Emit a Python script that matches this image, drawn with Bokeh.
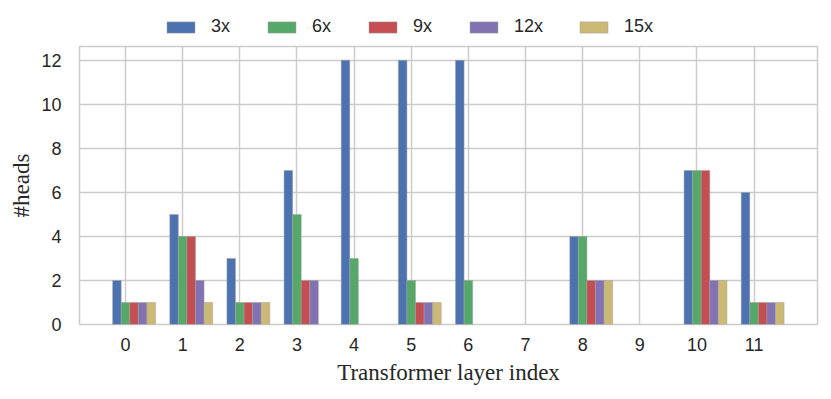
from bokeh.plotting import figure
from bokeh.layouts import column
from bokeh.models import (ColumnDataSource, Legend, LegendItem, Range1d, FixedTicker,
                          CDSView, BooleanFilter)
from bokeh.transform import dodge
from bokeh.embed import file_html
from bokeh.resources import INLINE

layers = list(range(12))
series_names = ["3x", "6x", "9x", "12x", "15x"]
heads_3x = [2, 5, 3, 7, 12, 12, 12, 0, 4, 0, 7, 6]
heads_6x = [1, 4, 1, 5, 3, 2, 2, 0, 4, 0, 7, 1]
heads_9x = [1, 4, 1, 2, 0, 1, 0, 0, 2, 0, 7, 1]
heads_12x = [1, 2, 1, 2, 0, 1, 0, 0, 2, 0, 2, 1]
heads_15x = [1, 1, 1, 0, 0, 1, 0, 0, 2, 0, 2, 1]
y_ticks = [0, 2, 4, 6, 8, 10, 12]

colors = ["#4C72B0", "#55A868", "#C44E52", "#8172B2", "#CCB974"]
offsets = [-0.15, 0.0, 0.15, 0.30, 0.45]
bar_w = 0.15

src = ColumnDataSource(dict(layer=layers, s3=heads_3x, s6=heads_6x, s9=heads_9x,
                            s12=heads_12x, s15=heads_15x))
cols = ["s3", "s6", "s9", "s12", "s15"]
series_vals = [heads_3x, heads_6x, heads_9x, heads_12x, heads_15x]

# --- main chart ---
p = figure(width=830, height=358, output_backend="svg", toolbar_location=None,
           x_range=Range1d(-0.805, 12.11), y_range=Range1d(0, 12.63),
           min_border_left=79, min_border_right=13, min_border_top=6, min_border_bottom=74)

for c, vals, off, col in zip(cols, series_vals, offsets, colors):
    view = CDSView(filter=BooleanFilter([v > 0 for v in vals]))
    p.vbar(x=dodge("layer", off), top=c, width=bar_w, source=src, view=view,
           fill_color=col, line_color="#a0a0a0", line_width=0.5)

p.outline_line_color = "#cccccc"
p.outline_line_width = 1.5
p.background_fill_color = "white"
p.border_fill_color = "white"

p.xgrid.ticker = FixedTicker(ticks=layers)
p.ygrid.ticker = FixedTicker(ticks=y_ticks)
for g in (p.xgrid, p.ygrid):
    g.grid_line_color = "#cccccc"
    g.grid_line_width = 1.5

p.xaxis.ticker = FixedTicker(ticks=layers)
p.yaxis.ticker = FixedTicker(ticks=y_ticks)
for ax in (p.xaxis, p.yaxis):
    ax.axis_line_color = None
    ax.major_tick_line_color = None
    ax.minor_tick_line_color = None
    ax.major_label_text_font = "Liberation Sans"
    ax.major_label_text_font_size = "18px"
    ax.major_label_text_color = "#262626"
    ax.axis_label_text_font = "Liberation Serif"
    ax.axis_label_text_font_style = "normal"
    ax.axis_label_text_font_size = "23px"
    ax.axis_label_text_color = "#262626"
p.xaxis.major_label_standoff = 7
p.yaxis.major_label_standoff = 12
p.xaxis.axis_label = "Transformer layer index"
p.yaxis.axis_label = "#heads"
p.xaxis.axis_label_standoff = 6
p.yaxis.axis_label_standoff = 4

# --- legend strip above the chart (proxy glyphs lie outside the visible range) ---
lg = figure(width=830, height=40, output_backend="svg", toolbar_location=None,
            x_range=Range1d(0, 1), y_range=Range1d(0, 1),
            min_border_left=0, min_border_right=0, min_border_top=0, min_border_bottom=0)
lg.axis.visible = False
lg.grid.visible = False
lg.outline_line_color = None
lg.border_fill_color = "white"

items = []
for n, col in zip(series_names, colors):
    r = lg.vbar(x=[-5], top=[-5], bottom=[-6], width=0.1, fill_color=col,
                line_color="#a0a0a0", line_width=0.5)
    items.append(LegendItem(label=n, renderers=[r]))

legend = Legend(items=items, orientation="horizontal", location=(84, 3),
                glyph_width=35, glyph_height=14, label_standoff=13, spacing=33,
                padding=0, margin=0, border_line_color=None, background_fill_alpha=0,
                label_text_font="Liberation Sans", label_text_font_size="18px",
                label_text_color="#262626")
lg.add_layout(legend, "center")

layout = column(lg, p, spacing=0)
open("out.html", "w").write(file_html(layout, INLINE))
